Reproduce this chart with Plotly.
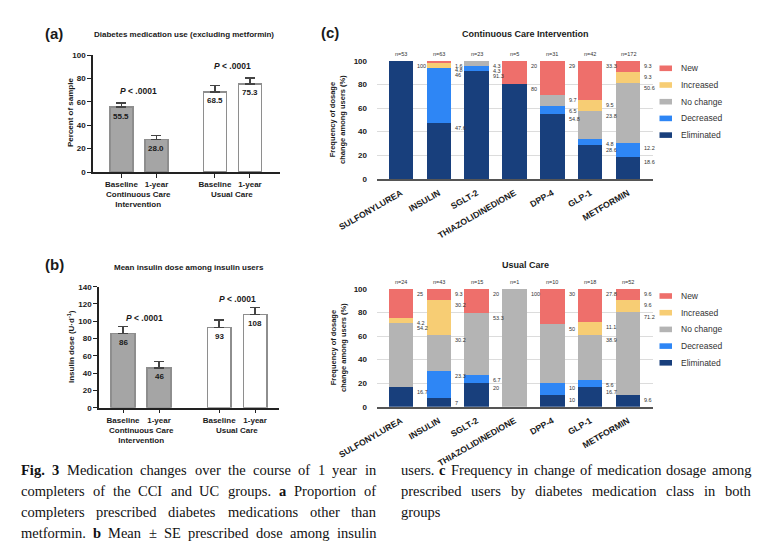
import plotly.graph_objects as go

W, H = 768, 555
OFF = 8  # page offset of the plot div


def PX(x):
    return (x - OFF) / W


def PY(y):
    return 1 - (y - OFF) / H


# ---------------- data ----------------
a_timepoints = ["Baseline", "1-year", "Baseline", "1-year"]
a_groups = ["Continuous Care<br>Intervention", "Usual Care"]
a_values = [55.5, 28.0, 68.5, 75.3]
a_se = [3.5, 3.1, 5.6, 5.0]
a_pvalues = ["<i>P</i> < .0001", "<i>P</i> < .0001"]

b_values = [86, 46, 93, 108]
b_se = [7.7, 7.2, 8.5, 8.2]
b_pvalues = ["<i>P</i> < .0001", "<i>P</i> < .0001"]

med_classes = ["SULFONYLUREA", "INSULIN", "SGLT-2", "THIAZOLIDINEDIONE",
               "DPP-4", "GLP-1", "METFORMIN"]
change_types = ["Eliminated", "Decreased", "No change", "Increased", "New"]

cci_n = [53, 63, 23, 5, 31, 42, 172]
cci_eliminated = [100, 47.6, 91.3, 80, 54.8, 28.6, 18.6]
cci_decreased = [0, 46, 4.3, 0, 6.5, 4.8, 12.2]
cci_nochange = [0, 0, 4.3, 0, 9.7, 23.8, 50.6]
cci_increased = [0, 4.8, 0, 0, 0, 9.5, 9.3]
cci_new = [0, 1.6, 0, 20, 29, 33.3, 9.3]

uc_n = [24, 43, 15, 1, 10, 18, 52]
uc_eliminated = [16.7, 7, 20, 0, 10, 16.7, 9.6]
uc_decreased = [0, 23.3, 6.7, 0, 10, 5.6, 0]
uc_nochange = [54.2, 30.2, 53.3, 100, 50, 38.9, 71.2]
uc_increased = [4.2, 30.2, 0, 0, 0, 11.1, 9.6]
uc_new = [25, 9.3, 20, 0, 30, 27.8, 9.6]

# caption (words wrapped in * are bold)
caption_left = [
    "*Fig.* *3* Medication changes over the course of 1 year in",
    "completers of the CCI and UC groups. *a* Proportion of",
    "completers prescribed diabetes medications other than",
    "metformin. *b* Mean ± SE prescribed dose among insulin",
]
caption_right = [
    "users. *c* Frequency in change of medication dosage among",
    "prescribed users by diabetes medication class in both",
    "groups",
]

# ---------------- styles ----------------
colors = {"Eliminated": "#183F7C", "Decreased": "#2E86F5", "No change": "#B4B4B4",
          "Increased": "#F7CD74", "New": "#EE6F6B"}
SANS = "Liberation Sans, Arial, sans-serif"
SERIF = "Liberation Serif, Times New Roman, serif"
TXT = "#1a1a1a"

bar_pos = [1, 2, 3.67, 4.67]
group_centers = [1.5, 4.17]
bar_fill = ["#A5A5A5", "#A5A5A5", "#FFFFFF", "#FFFFFF"]
bar_edge = ["#8E8E8E", "#8E8E8E", "#8E8E8E", "#8E8E8E"]

fig = go.Figure()
ann = []
shapes = []


def ptext(x, y, text, size, xanchor="center", yanchor="middle", angle=0, color=TXT,
          family=SANS):
    return dict(x=PX(x), y=PY(y), xref="paper", yref="paper", text=text, showarrow=False,
                xanchor=xanchor, yanchor=yanchor, textangle=angle,
                font=dict(size=size, color=color, family=family))


# ---------------- panels a & b ----------------
for vals, se, xa, ya in [(a_values, a_se, "x", "y"), (b_values, b_se, "x2", "y2")]:
    fig.add_trace(go.Bar(
        x=bar_pos, y=vals, width=0.66, xaxis=xa, yaxis=ya, showlegend=False,
        marker=dict(color=bar_fill, line=dict(color=bar_edge, width=1.4)),
        error_y=dict(type="data", array=se, arrayminus=[0] * len(se), symmetric=False,
                     color="#444", thickness=1.4, width=5),
        hoverinfo="skip"))
    for xv, v in zip(bar_pos, vals):
        lab = f"{v:.1f}" if ya == "y" else f"{v:g}"
        ann.append(dict(x=xv, y=v, xref=xa, yref=ya, text=f"<b>{lab}</b>", showarrow=False,
                        xanchor="center", yanchor="middle", yshift=-9,
                        font=dict(size=8, color=TXT, family=SANS)))

# p-values
for (xv, yv, t) in zip(group_centers, [69, 90.6], a_pvalues):
    ann.append(dict(x=xv, y=yv, xref="x", yref="y", text=f"<b>{t}</b>", showarrow=False,
                    xanchor="center", yanchor="middle",
                    font=dict(size=8.5, color=TXT, family=SANS)))
for (xv, yv, t) in zip([1.6, 4.17], [103.5, 125.5], b_pvalues):
    ann.append(dict(x=xv, y=yv, xref="x2", yref="y2", text=f"<b>{t}</b>", showarrow=False,
                    xanchor="center", yanchor="middle",
                    font=dict(size=8.5, color=TXT, family=SANS)))

# group labels
for xa, ytop in [("x", 188), ("x2", 424)]:
    for xv, g in zip(group_centers, a_groups):
        ann.append(dict(x=xv, y=PY(ytop), xref=xa, yref="paper", text=f"<b>{g}</b>",
                        showarrow=False, xanchor="center", yanchor="top",
                        font=dict(size=8, color=TXT, family=SANS)))

# panel letters and titles
ann += [
    ptext(54, 34, "<b>(a)</b>", 15),
    ptext(184, 35, "<b>Diabetes medication use (excluding metformin)</b>", 8),
    ptext(70, 113, "<b>Percent of sample</b>", 8, angle=-90),
    ptext(54, 265, "<b>(b)</b>", 15),
    ptext(189, 267, "<b>Mean insulin dose among insulin users</b>", 8),
    ptext(71, 347, "<b>Insulin dose (U·d<sup>-1</sup>)</b>", 8, angle=-90),
    ptext(330, 33, "<b>(c)</b>", 15),
    ptext(525, 34, "<b>Continuous Care Intervention</b>", 9),
    ptext(525, 265, "<b>Usual Care</b>", 9),
]
for yc in [120, 348]:
    ann.append(ptext(338, yc, "<b>Frequency of dosage<br>change among users (%)</b>", 7.5,
                     angle=-90))

# ---------------- panel c ----------------
panels = [
    ("x3", "y3", cci_n, [cci_eliminated, cci_decreased, cci_nochange, cci_increased, cci_new], 68.3),
    ("x4", "y4", uc_n, [uc_eliminated, uc_decreased, uc_nochange, uc_increased, uc_new], 296),
]
BW = 0.65
for xa, ya, ns, series, leg_top in panels:
    for name, vals in zip(change_types, series):
        fig.add_trace(go.Bar(x=med_classes, y=vals, name=name, width=BW, xaxis=xa, yaxis=ya,
                             marker=dict(color=colors[name], line=dict(width=0)),
                             showlegend=False, hoverinfo="skip"))
    for i, cls in enumerate(med_classes):
        ann.append(dict(x=i, y=100, xref=xa, yref=ya, text=f"n={ns[i]}", showarrow=False,
                        xanchor="center", yanchor="bottom", yshift=2,
                        font=dict(size=5.5, color="#333", family=SANS)))
        # segment-top labels, from top down, pushed apart
        tops = []
        cum = 0
        for vals in series:
            cum += vals[i]
            tops.append((cum, vals[i]))
        prev = None
        for top, v in reversed(tops):
            if v <= 0:
                continue
            ylab = min(top, 100) if prev is None else min(top, prev - 3.9)
            prev = ylab
            ann.append(dict(x=i + BW / 2, y=ylab, xref=xa, yref=ya, text=f"{v:g}",
                            showarrow=False, xanchor="left", yanchor="top", xshift=2,
                            font=dict(size=5.5, color="#333", family=SANS)))
    # legend
    for k, name in enumerate(reversed(change_types)):
        yc = leg_top + k * 16.7
        shapes.append(dict(type="rect", xref="paper", yref="paper",
                           x0=PX(659.5), x1=PX(672), y0=PY(yc + 2.8), y1=PY(yc - 2.8),
                           fillcolor=colors[name], line=dict(width=0)))
        ann.append(ptext(679, yc, name, 8.5, xanchor="left", color="#333"))

# ---------------- caption (justified, word by word) ----------------
TIMES = {" ": 250, "!": 333, ",": 250, "-": 333, ".": 250, ":": 278, ";": 278,
         "0": 500, "1": 500, "2": 500, "3": 500, "4": 500, "5": 500, "6": 500, "7": 500,
         "8": 500, "9": 500, "±": 564,
         "A": 722, "B": 667, "C": 667, "D": 722, "E": 611, "F": 556, "G": 722, "H": 722,
         "I": 333, "J": 389, "K": 722, "L": 611, "M": 889, "N": 722, "O": 722, "P": 556,
         "Q": 722, "R": 667, "S": 556, "T": 611, "U": 722, "V": 722, "W": 944, "X": 722,
         "Y": 722, "Z": 611,
         "a": 444, "b": 500, "c": 444, "d": 500, "e": 444, "f": 333, "g": 500, "h": 500,
         "i": 278, "j": 278, "k": 500, "l": 278, "m": 778, "n": 500, "o": 500, "p": 500,
         "q": 500, "r": 333, "s": 389, "t": 278, "u": 500, "v": 500, "w": 722, "x": 500,
         "y": 500, "z": 444}
TIMES_BOLD = dict(TIMES, F=611, a=500, b=556, c=444, g=500, i=278)
CAP_SIZE = 14.5


def word_width(word, bold):
    table = TIMES_BOLD if bold else TIMES
    return sum(table.get(ch, 500) for ch in word) * CAP_SIZE / 1000


def caption_column(lines, x_left, x_right, y0, dy, last_is_end):
    for k, line in enumerate(lines):
        words = []
        for w in line.split(" "):
            bold = w.startswith("*") and w.endswith("*")
            words.append((w.strip("*"), bold))
        widths = [word_width(w, b) for w, b in words]
        last = last_is_end and k == len(lines) - 1
        if len(words) > 1 and not last:
            gap = (x_right - x_left - sum(widths)) / (len(words) - 1)
        else:
            gap = CAP_SIZE * 0.25
        x = x_left
        for (w, b), wd in zip(words, widths):
            txt = f"<b>{w}</b>" if b else w
            a = ptext(x, y0 + k * dy, txt, CAP_SIZE, xanchor="left", color="#111",
                      family=SERIF)
            a["borderpad"] = 0
            ann.append(a)
            x += wd + gap


caption_column(caption_left, 20, 375, 470, 21, False)
caption_column(caption_right, 400, 750, 470, 21, True)

# ---------------- axes ----------------
tick_font = dict(size=8, color=TXT, family=SANS, weight="bold")
ab_x = dict(showline=True, linecolor="#222", linewidth=1.5, ticks="outside", ticklen=4,
            tickwidth=1.4, tickcolor="#222", tickvals=bar_pos, ticktext=a_timepoints,
            tickfont=tick_font, showgrid=False, zeroline=False, automargin=False)
ab_y = dict(showline=True, linecolor="#222", linewidth=1.5, ticks="outside", ticklen=4,
            tickwidth=1.4, tickcolor="#222", tickfont=tick_font, showgrid=False,
            zeroline=False, dtick=20, automargin=False)
c_x = dict(type="category", categoryorder="array", categoryarray=med_classes,
           range=[-0.634, 6.66], showline=True, linecolor="#555", linewidth=1.5,
           ticks="", tickangle=-30, ticklabelstandoff=4,
           tickfont=dict(size=8.7, color=TXT, family=SANS, weight="bold"),
           showgrid=False, zeroline=False, automargin=False)
c_y = dict(range=[0, 100], dtick=20, showline=False, showgrid=True, gridcolor="#DCDCDC",
           gridwidth=1, zeroline=False, ticks="", ticklabelstandoff=9, automargin=False,
           tickfont=dict(size=8, color=TXT, family=SANS, weight="bold"))

fig.update_layout(
    width=W, height=H, margin=dict(l=0, r=0, t=0, b=0, pad=0, autoexpand=False),
    paper_bgcolor="white", plot_bgcolor="white", barmode="stack", showlegend=False,
    xaxis=dict(ab_x, domain=[PX(93), PX(280)], range=[0.186, 5.53], anchor="y"),
    yaxis=dict(ab_y, domain=[PY(172), PY(55)], range=[0, 100], anchor="x"),
    xaxis2=dict(ab_x, domain=[PX(99), PX(279)], range=[0.333, 5.333], anchor="y2"),
    yaxis2=dict(ab_y, domain=[PY(407.7), PY(286.7)], range=[0, 140], anchor="x2"),
    xaxis3=dict(c_x, domain=[PX(377), PX(653)], anchor="y3"),
    yaxis3=dict(c_y, domain=[PY(179), PY(60.7)], anchor="x3"),
    xaxis4=dict(c_x, domain=[PX(377), PX(653)], anchor="y4"),
    yaxis4=dict(c_y, domain=[PY(406.7), PY(289)], anchor="x4"),
    annotations=ann, shapes=shapes,
)

fig.write_html("out.html")
